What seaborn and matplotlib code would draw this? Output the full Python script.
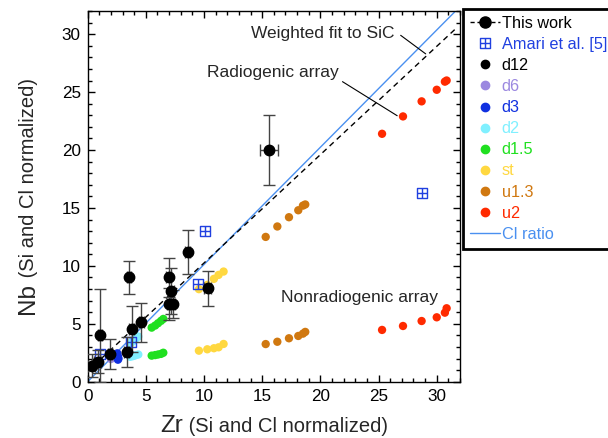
import numpy as np
import pandas as pd
import matplotlib
matplotlib.use("Agg")
import matplotlib.pyplot as plt
import seaborn as sns
from matplotlib.path import Path
from matplotlib.lines import Line2D

# ---- This work (measured grains) ----
tw_zr = [0.34, 0.86, 1.06, 1.91, 3.34, 3.55, 3.77, 4.6, 6.97, 7.2, 7.0, 7.3, 8.6, 10.3, 15.6]
tw_nb = [1.38, 1.73, 4.0, 2.39, 2.6, 9.0, 4.55, 5.13, 9.0, 7.84, 6.7, 6.7, 11.2, 8.07, 20.0]
tw_nb_err = [1.0, 1.0, 4.0, 1.3, 1.3, 1.4, 2.0, 1.7, 1.7, 2.0, 1.4, 1.2, 1.9, 1.5, 3.0]
tw_zr_err = [0.3, 0.3, 0.15, 0.15, 0.2, 0.15, 0.2, 0.2, 0.2, 0.2, 0.2, 0.2, 0.2, 0.3, 0.8]

# ---- Amari et al. [5] ----
am_zr = [1.05, 3.7, 9.5, 10.1, 28.7]
am_nb = [2.4, 3.46, 8.4, 13.0, 16.3]

# ---- AGB model predictions (radiogenic + nonradiogenic arrays) ----
models = ["d12", "d6", "d3", "d2", "d1.5", "st", "u1.3", "u2"]
d12_zr = [0.3, 0.5, 0.7]
d12_nb = [1.3, 1.5, 1.7]
d6_zr = [2.0, 2.0]
d6_nb = [1.96, 2.1]
d3_zr = [2.55, 2.6, 2.65, 2.6]
d3_nb = [2.45, 2.2, 2.0, 1.9]
d2_zr = [3.65, 3.85, 4.0, 4.15, 4.35, 3.65, 3.85, 4.0, 4.15, 4.35]
d2_nb = [3.3, 3.45, 3.6, 3.75, 3.9, 2.15, 2.2, 2.25, 2.3, 2.35]
d15_zr = [5.5, 5.8, 6.05, 6.3, 6.5, 5.5, 5.8, 6.05, 6.3, 6.5]
d15_nb = [4.67, 4.85, 5.05, 5.25, 5.42, 2.25, 2.3, 2.35, 2.4, 2.5]
st_zr = [9.56, 10.28, 10.85, 11.25, 11.68, 9.56, 10.28, 10.85, 11.25, 11.68]
st_nb = [7.99, 8.36, 8.88, 9.22, 9.51, 2.68, 2.8, 2.89, 2.97, 3.26]
u13_zr = [15.3, 16.3, 17.3, 18.1, 18.5, 18.7, 15.3, 16.3, 17.3, 18.1, 18.5, 18.7]
u13_nb = [12.5, 13.4, 14.2, 14.8, 15.2, 15.3, 3.25, 3.45, 3.75, 3.95, 4.15, 4.3]
u2_zr = [25.3, 27.1, 28.7, 30.0, 30.7, 30.85, 25.3, 27.1, 28.7, 30.0, 30.7, 30.85]
u2_nb = [21.4, 22.9, 24.2, 25.2, 25.9, 26.0, 4.47, 4.81, 5.24, 5.56, 5.96, 6.34]

# ---- Reference lines ----
line_zr = [0.0, 31.7]
fit_slope, fit_icpt = 0.935, 0.9
cl_slope = 1.012

palette = {"d12": "#000000", "d6": "#9b88e0", "d3": "#1030e0", "d2": "#80f0ff",
           "d1.5": "#20e020", "st": "#ffd840", "u1.3": "#d07810", "u2": "#ff2a00"}
AMARI = "#2040e0"
CL = "#4a90f0"

model_xy = {"d12": (d12_zr, d12_nb), "d6": (d6_zr, d6_nb), "d3": (d3_zr, d3_nb),
            "d2": (d2_zr, d2_nb), "d1.5": (d15_zr, d15_nb), "st": (st_zr, st_nb),
            "u1.3": (u13_zr, u13_nb), "u2": (u2_zr, u2_nb)}
df = pd.concat([pd.DataFrame({"Zr": x, "Nb": y, "model": m}) for m, (x, y) in model_xy.items()],
               ignore_index=True)

sns.set_theme(style="ticks")
plt.rcParams["font.family"] = ["Liberation Sans", "DejaVu Sans"]

fig = plt.figure(figsize=(6.08, 4.38), dpi=100)
ax = fig.add_axes([0.1442, 0.1285, 0.7566 - 0.1442, 0.9749 - 0.1285])

# lines
lx = np.array(line_zr)
ax.plot(lx, cl_slope * lx, color=CL, lw=1.0, zorder=2)
ax.plot(lx, fit_slope * lx + fit_icpt, color="black", lw=1.0, ls=(0, (4, 3)), zorder=2)

# model dots
sns.scatterplot(data=df, x="Zr", y="Nb", hue="model", palette=palette, hue_order=models,
                s=36, linewidth=0, legend=False, ax=ax, zorder=3)

# Amari square-with-plus marker
sq = Path([(-1, -1), (1, -1), (1, 1), (-1, 1), (-1, -1), (-1, 0), (1, 0), (0, -1), (0, 1)],
          [Path.MOVETO, Path.LINETO, Path.LINETO, Path.LINETO, Path.CLOSEPOLY,
           Path.MOVETO, Path.LINETO, Path.MOVETO, Path.LINETO])
ax.plot(am_zr, am_nb, ls="none", marker=sq, ms=6.5, mfc="none", mec=AMARI, mew=1.0, zorder=4)

# This work with errors
ax.errorbar(tw_zr, tw_nb, yerr=tw_nb_err, xerr=tw_zr_err, fmt="o", ms=7.5, color="black",
            ecolor="#444444", elinewidth=1.0, capsize=4, capthick=1.0, zorder=5)

ax.set_xlim(0, 32)
ax.set_ylim(0, 32)
ax.set_xlabel("")
ax.set_ylabel("")
ax.set_xticks([0, 5, 10, 15, 20, 25, 30])
ax.set_yticks([0, 5, 10, 15, 20, 25, 30])
ax.set_xticks(np.arange(0, 33, 1), minor=True)
ax.set_yticks(np.arange(0, 33, 1), minor=True)
ax.tick_params(which="both", direction="in", top=True, right=True, color="black", width=1.0)
ax.tick_params(which="major", length=5, labelsize=12.3, pad=5, labelcolor="black")
ax.tick_params(which="minor", length=3)
for s in ax.spines.values():
    s.set_color("black")
    s.set_linewidth(1.0)

# annotations
ax.text(26.4, 30.1, "Weighted fit to SiC", ha="right", va="center", fontsize=12.5)
ax.plot([26.9, 29.05], [29.9, 28.3], color="black", lw=0.8)
ax.text(10.25, 26.7, "Radiogenic array", ha="left", va="center", fontsize=12.5)
ax.plot([21.9, 26.6], [25.9, 22.96], color="black", lw=0.8)
ax.text(16.6, 7.3, "Nonradiogenic array", ha="left", va="center", fontsize=12.5)

# axis labels with mixed sizes
fig.canvas.draw()
r = fig.canvas.get_renderer()
W, H = fig.get_size_inches() * fig.dpi
t1 = fig.text(0, 0, "Zr", fontsize=17.5, ha="left", va="baseline")
t2 = fig.text(0, 0, " (Si and Cl normalized)", fontsize=14.5, ha="left", va="baseline")
w1 = t1.get_window_extent(r).width
w2 = t2.get_window_extent(r).width
x0 = (87.7 + 460) / 2 - (w1 + w2) / 2
t1.set_position((x0 / W, 6.5 / H))
t2.set_position(((x0 + w1) / W, 6.5 / H))

t3 = fig.text(0, 0, "Nb", fontsize=17.5, ha="left", va="baseline", rotation=90, rotation_mode="anchor")
t4 = fig.text(0, 0, " (Si and Cl normalized)", fontsize=14.5, ha="left", va="baseline",
              rotation=90, rotation_mode="anchor")
h3 = t3.get_window_extent(r).height
h4 = t4.get_window_extent(r).height
y0 = (438 - (11 + 381.7) / 2) - (h3 + h4) / 2
t3.set_position((34 / W, y0 / H))
t4.set_position((34 / W, (y0 + h3) / H))

# legend
handles = [
    Line2D([], [], color="black", ls=(0, (3, 2)), lw=1.0, marker="o", ms=8),
    Line2D([], [], ls="none", marker=sq, ms=6.5, mfc="none", mec=AMARI, mew=1.0),
]
for m in models:
    handles.append(Line2D([], [], ls="none", marker="o", ms=6, mfc=palette[m], mec=palette[m]))
handles.append(Line2D([], [], color=CL, lw=1.0))
labels = ["This work", "Amari et al. [5]"] + models + ["Cl ratio"]
lcolors = ["black", AMARI] + [palette[m] for m in models] + [CL]
leg = fig.legend(handles, labels, loc="upper left", bbox_to_anchor=(462.7 / 608, 1 - 9 / 438),
                 borderaxespad=0, fontsize=11.7, frameon=True, fancybox=False,
                 handlelength=1.85, handletextpad=0.14, labelspacing=0.375, borderpad=0.42,
                 labelcolor=lcolors)
leg.get_frame().set_edgecolor("black")
leg.get_frame().set_linewidth(2.0)
leg.get_frame().set_alpha(1)

fig.savefig("out.png", dpi=100)
